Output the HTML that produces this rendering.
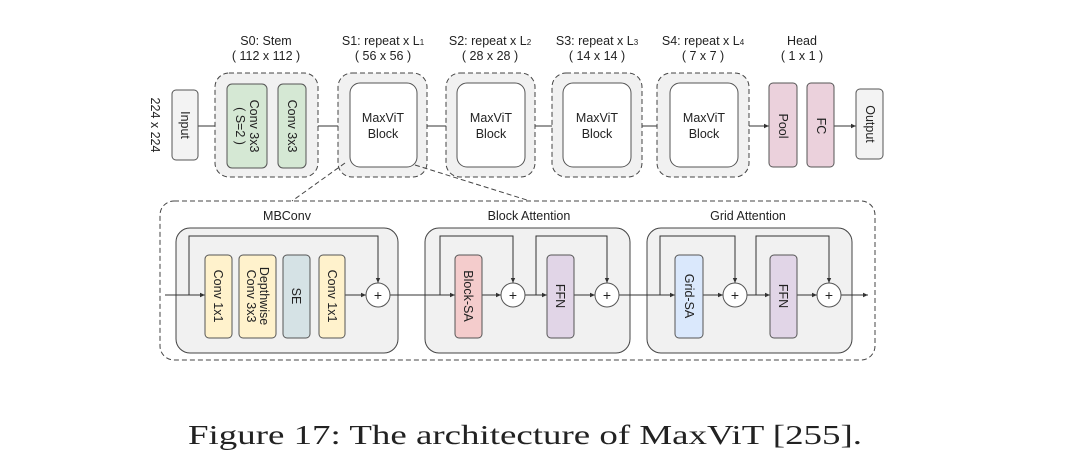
<!DOCTYPE html>
<html><head><meta charset="utf-8"><style>
html,body{margin:0;padding:0;background:#fff;}
svg{display:block;}
text{font-family:"Liberation Sans",sans-serif;fill:#222;}
</style></head><body>
<svg width="1080" height="475" viewBox="0 0 1080 475" xmlns="http://www.w3.org/2000/svg">
<defs><marker id="a" markerWidth="6" markerHeight="6" refX="5" refY="3" orient="auto"><path d="M0,0.8 L5,3 L0,5.2z" fill="#333"/></marker></defs>
<g font-size="12.5" text-anchor="middle">
<text x="266" y="45">S0: Stem</text><text x="266" y="60">( 112 x 112 )</text>
<text x="383" y="45">S1: repeat x L<tspan font-size="8">1</tspan></text><text x="383" y="60">( 56 x 56 )</text>
<text x="490" y="45">S2: repeat x L<tspan font-size="8">2</tspan></text><text x="490" y="60">( 28 x 28 )</text>
<text x="597" y="45">S3: repeat x L<tspan font-size="8">3</tspan></text><text x="597" y="60">( 14 x 14 )</text>
<text x="703" y="45">S4: repeat x L<tspan font-size="8">4</tspan></text><text x="703" y="60">( 7 x 7 )</text>
<text x="802" y="45">Head</text><text x="802" y="60">( 1 x 1 )</text>
</g>
<g stroke="#333" stroke-width="1" fill="none">
<line x1="198" y1="126" x2="227" y2="126" marker-end="url(#a)"/>
<line x1="306" y1="126" x2="350" y2="126" marker-end="url(#a)"/>
<line x1="417" y1="126" x2="457" y2="126" marker-end="url(#a)"/>
<line x1="525" y1="126" x2="563" y2="126" marker-end="url(#a)"/>
<line x1="631" y1="126" x2="670" y2="126" marker-end="url(#a)"/>
<line x1="738" y1="126" x2="769" y2="126" marker-end="url(#a)"/>
<line x1="834" y1="126" x2="856" y2="126" marker-end="url(#a)"/>
</g>
<g stroke="#444" stroke-dasharray="5,3" fill="#f1f1f1">
<rect x="215" y="73" width="103" height="104" rx="14"/>
<rect x="338" y="73" width="89" height="104" rx="14"/>
<rect x="446" y="73" width="89" height="104" rx="14"/>
<rect x="552" y="73" width="90" height="104" rx="14"/>
<rect x="657" y="73" width="92" height="104" rx="14"/>
</g>
<g stroke="#555" stroke-width="1">
<rect x="172" y="90" width="26" height="70" rx="4" fill="#f3f3f3"/>
<rect x="227" y="84" width="40" height="84" rx="5" fill="#d5e8d4"/>
<rect x="278" y="84" width="28" height="84" rx="5" fill="#d5e8d4"/>
<rect x="350" y="83" width="67" height="84" rx="10" fill="#fff"/>
<rect x="457" y="83" width="68" height="84" rx="10" fill="#fff"/>
<rect x="563" y="83" width="68" height="84" rx="10" fill="#fff"/>
<rect x="670" y="83" width="68" height="84" rx="10" fill="#fff"/>
<rect x="769" y="83" width="28" height="84" rx="4" fill="#ebd1dc"/>
<rect x="807" y="83" width="27" height="84" rx="4" fill="#ebd1dc"/>
<rect x="856" y="89" width="27" height="70" rx="4" fill="#f3f3f3"/>
</g>
<g font-size="12.5" text-anchor="middle">
<text x="383" y="122">MaxViT</text><text x="383" y="138">Block</text>
<text x="491" y="122">MaxViT</text><text x="491" y="138">Block</text>
<text x="597" y="122">MaxViT</text><text x="597" y="138">Block</text>
<text x="704" y="122">MaxViT</text><text x="704" y="138">Block</text>
<text transform="translate(151,125) rotate(90)">224 x 224</text>
<text transform="translate(181,125) rotate(90)">Input</text>
<text transform="translate(250,126) rotate(90)">Conv 3x3</text>
<text transform="translate(236,126) rotate(90)">( S=2 )</text>
<text transform="translate(288,126) rotate(90)">Conv 3x3</text>
<text transform="translate(779,126) rotate(90)">Pool</text>
<text transform="translate(817,126) rotate(90)">FC</text>
<text transform="translate(866,124) rotate(90)">Output</text>
</g>
<g stroke="#444" stroke-dasharray="5,3" fill="none">
<line x1="345" y1="163" x2="292" y2="201"/>
<line x1="415" y1="165" x2="530" y2="201"/>
<rect x="160" y="201" width="715" height="159" rx="14"/>
</g>
<g font-size="12.5" text-anchor="middle">
<text x="287" y="220">MBConv</text>
<text x="529" y="220">Block Attention</text>
<text x="748" y="220">Grid Attention</text>
</g>
<g stroke="#444" fill="#f1f1f1">
<rect x="176" y="228" width="222" height="125" rx="14"/>
<rect x="425" y="228" width="205" height="125" rx="14"/>
<rect x="647" y="228" width="205" height="125" rx="14"/>
</g>
<g stroke="#333" fill="none">
<line x1="165" y1="295" x2="205" y2="295" marker-end="url(#a)"/>
<polyline points="189,295 189,236 378,236 378,283" marker-end="url(#a)"/>
<line x1="345" y1="295" x2="366" y2="295" marker-end="url(#a)"/>
<line x1="390" y1="295" x2="455" y2="295" marker-end="url(#a)"/>
<polyline points="440,295 440,236 513,236 513,283" marker-end="url(#a)"/>
<line x1="482" y1="295" x2="501" y2="295" marker-end="url(#a)"/>
<line x1="525" y1="295" x2="547" y2="295" marker-end="url(#a)"/>
<polyline points="536,295 536,236 607,236 607,283" marker-end="url(#a)"/>
<line x1="574" y1="295" x2="595" y2="295" marker-end="url(#a)"/>
<line x1="619" y1="295" x2="675" y2="295" marker-end="url(#a)"/>
<polyline points="660,295 660,236 735,236 735,283" marker-end="url(#a)"/>
<line x1="703" y1="295" x2="723" y2="295" marker-end="url(#a)"/>
<line x1="747" y1="295" x2="770" y2="295" marker-end="url(#a)"/>
<polyline points="756,295 756,236 829,236 829,283" marker-end="url(#a)"/>
<line x1="797" y1="295" x2="817" y2="295" marker-end="url(#a)"/>
<line x1="841" y1="295" x2="868" y2="295" marker-end="url(#a)"/>
</g>
<g stroke="#555">
<rect x="205" y="255" width="27" height="83" rx="4" fill="#fff2cc"/>
<rect x="239" y="255" width="37" height="83" rx="4" fill="#fff2cc"/>
<rect x="283" y="255" width="27" height="83" rx="4" fill="#d5e2e5"/>
<rect x="319" y="255" width="26" height="83" rx="4" fill="#fff2cc"/>
<rect x="455" y="255" width="27" height="83" rx="4" fill="#f4cccc"/>
<rect x="547" y="255" width="27" height="83" rx="4" fill="#e1d5e7"/>
<rect x="675" y="255" width="28" height="83" rx="4" fill="#dae8fc"/>
<rect x="770" y="255" width="27" height="83" rx="4" fill="#e1d5e7"/>
<circle cx="378" cy="295" r="12" fill="#fff"/>
<circle cx="513" cy="295" r="12" fill="#fff"/>
<circle cx="607" cy="295" r="12" fill="#fff"/>
<circle cx="735" cy="295" r="12" fill="#fff"/>
<circle cx="829" cy="295" r="12" fill="#fff"/>
</g>
<g font-size="14" text-anchor="middle"><text x="378" y="300">+</text><text x="513" y="300">+</text><text x="607" y="300">+</text><text x="735" y="300">+</text><text x="829" y="300">+</text></g>
<g font-size="12.5" text-anchor="middle">
<text transform="translate(214,296) rotate(90)">Conv 1x1</text>
<text transform="translate(260,296) rotate(90)">Depthwise</text>
<text transform="translate(247,296) rotate(90)">Conv 3x3</text>
<text transform="translate(292,296) rotate(90)">SE</text>
<text transform="translate(328,296) rotate(90)">Conv 1x1</text>
<text transform="translate(464,296) rotate(90)">Block-SA</text>
<text transform="translate(556,296) rotate(90)">FFN</text>
<text transform="translate(685,296) rotate(90)">Grid-SA</text>
<text transform="translate(779,296) rotate(90)">FFN</text>
</g>
<text x="188" y="444" font-size="27" textLength="674" lengthAdjust="spacingAndGlyphs" style="font-family:'Liberation Serif',serif">Figure 17: The architecture of MaxViT [255].</text>
</svg>
</body></html>
